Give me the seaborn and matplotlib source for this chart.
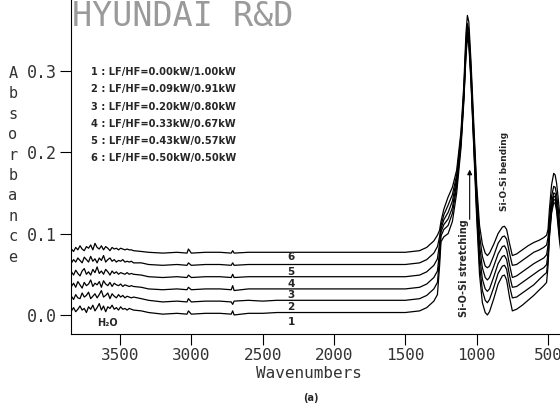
import matplotlib
matplotlib.use("Agg")
import matplotlib.pyplot as plt
import seaborn as sns
import pandas as pd

# ---------------- data ----------------
wavenumbers = [
    3840, 3825, 3810, 3795, 3780, 3765, 3750, 3735, 3720, 3705,
    3690, 3675, 3660, 3645, 3630, 3615, 3600, 3585, 3570, 3555,
    3540, 3525, 3510, 3495, 3480, 3465, 3450, 3435, 3420, 3405,
    3350, 3300, 3200, 3100, 3030, 3020, 3000, 2900, 2800, 2720,
    2710, 2700, 2600, 2500, 2400, 2300, 2200, 2000, 1800, 1600,
    1500, 1450, 1400, 1350,
    1300, 1275, 1260, 1250, 1230, 1200, 1170, 1140, 1110, 1090,
    1075, 1065, 1055, 1040, 1020, 1000, 980, 960, 940, 925,
    910, 880, 850, 820, 805, 790, 770, 750, 720, 680,
    640, 600, 560, 530, 510, 500, 490, 475, 460, 450,
    440, 430, 420, 410,
]

curve1 = [
    .005, .009, .004, .007, .011, .006, .008, .003, .010, .007,
    .012, .005, .009, .014, .006, .011, .004, .010, .008, .012,
    .007, .009, .006, .010, .007, .008, .006, .008, .007, .006,
    .005, .003, .001, .002, .001, .005, .001, .002, .002, .001,
    .005, .000, .002, .002, .003, .003, .003, .003, .003, .003,
    .003, .004, .005, .009,
    .017, .025, .060, .090, .096, .100, .115, .150, .205, .262,
    .318, .341, .333, .287, .204, .120, .050, .015, .003, .000,
    .004, .020, .038, .048, .049, .043, .022, .005, .007, .012,
    .018, .024, .031, .036, .040, .060, .095, .125, .138, .137,
    .128, .110, .092, .078,
]
curve2 = [
    .023, .019, .025, .021, .020, .027, .022, .024, .028, .020,
    .023, .026, .021, .025, .030, .022, .024, .027, .020, .026,
    .023, .021, .025, .022, .024, .021, .023, .022, .021, .022,
    .020, .018, .016, .017, .016, .020, .016, .017, .017, .016,
    .013, .017, .018, .017, .018, .018, .018, .018, .018, .018,
    .018, .019, .020, .024,
    .032, .040, .070, .097, .105, .110, .125, .158, .210, .266,
    .322, .344, .336, .290, .209, .128, .062, .030, .018, .015,
    .019, .034, .051, .060, .061, .056, .036, .021, .022, .027,
    .032, .037, .044, .049, .052, .068, .099, .129, .142, .141,
    .132, .115, .097, .083,
]
curve3 = [
    .035, .039, .034, .041, .037, .033, .040, .036, .038, .043,
    .035, .039, .037, .041, .034, .042, .038, .036, .040, .035,
    .039, .037, .036, .038, .035, .037, .036, .035, .036, .035,
    .034, .032, .031, .032, .031, .034, .031, .032, .032, .031,
    .036, .030, .032, .032, .032, .032, .032, .032, .032, .032,
    .032, .033, .034, .038,
    .046, .054, .078, .102, .111, .118, .132, .163, .213, .269,
    .326, .348, .340, .294, .214, .135, .074, .044, .032, .029,
    .032, .047, .063, .072, .073, .068, .049, .034, .035, .040,
    .045, .050, .055, .058, .062, .076, .104, .133, .146, .145,
    .136, .120, .102, .088,
]
curve4 = [
    .053, .049, .055, .051, .048, .054, .057, .050, .053, .049,
    .056, .052, .059, .051, .054, .050, .056, .053, .049, .054,
    .051, .053, .050, .052, .051, .050, .052, .050, .051, .050,
    .049, .047, .046, .047, .046, .049, .046, .047, .047, .046,
    .050, .046, .047, .047, .047, .047, .047, .047, .047, .047,
    .047, .048, .049, .053,
    .061, .069, .088, .106, .117, .126, .140, .168, .216, .272,
    .330, .352, .344, .298, .219, .143, .086, .058, .046, .043,
    .046, .060, .075, .084, .085, .080, .062, .046, .048, .053,
    .058, .063, .067, .070, .074, .085, .110, .138, .150, .149,
    .140, .125, .108, .094,
]
curve5 = [
    .064, .068, .065, .070, .067, .064, .071, .068, .065, .072,
    .066, .069, .064, .070, .067, .073, .065, .068, .070, .066,
    .068, .065, .067, .066, .068, .065, .066, .065, .066, .064,
    .064, .062, .061, .062, .061, .064, .061, .062, .062, .061,
    .064, .061, .062, .062, .062, .062, .062, .062, .062, .062,
    .062, .063, .064, .068,
    .076, .084, .096, .110, .123, .135, .148, .172, .220, .276,
    .336, .358, .350, .303, .225, .152, .098, .072, .060, .058,
    .060, .073, .088, .096, .097, .093, .076, .061, .062, .067,
    .072, .077, .080, .083, .086, .095, .118, .146, .158, .157,
    .148, .133, .116, .102,
]
curve6 = [
    .081, .078, .083, .080, .085, .081, .079, .084, .082, .086,
    .080, .088, .083, .081, .085, .080, .084, .082, .079, .083,
    .081, .082, .080, .082, .081, .080, .081, .080, .080, .079,
    .078, .077, .076, .077, .076, .081, .076, .077, .077, .076,
    .079, .076, .077, .077, .077, .077, .077, .077, .077, .077,
    .077, .078, .079, .083,
    .091, .098, .104, .115, .130, .145, .157, .178, .225, .283,
    .346, .368, .360, .312, .234, .160, .110, .087, .076, .073,
    .076, .087, .100, .108, .109, .105, .088, .073, .075, .080,
    .085, .089, .092, .095, .098, .105, .130, .160, .174, .172,
    .162, .146, .128, .112,
]

curve_ids = ["1", "2", "3", "4", "5", "6"]
legend_lines = [
    "1 : LF/HF=0.00kW/1.00kW",
    "2 : LF/HF=0.09kW/0.91kW",
    "3 : LF/HF=0.20kW/0.80kW",
    "4 : LF/HF=0.33kW/0.67kW",
    "5 : LF/HF=0.43kW/0.57kW",
    "6 : LF/HF=0.50kW/0.50kW",
]
curve_label_y = [-0.009, 0.010, 0.024, 0.038, 0.053, 0.071]
curve_label_x = 2300

x_ticks = [3500, 3000, 2500, 2000, 1500, 1000, 500]
x_tick_labels = ["3500", "3000", "2500", "2000", "1500", "1000", "500"]
y_ticks = [0.0, 0.1, 0.2, 0.3]
y_tick_labels = ["0.0", "0.1", "0.2", "0.3"]

# ---------------- build long table ----------------
series = [curve1, curve2, curve3, curve4, curve5, curve6]
frames = []
for cid, vals in zip(curve_ids, series):
    assert len(vals) == len(wavenumbers), (cid, len(vals), len(wavenumbers))
    frames.append(pd.DataFrame({"wn": wavenumbers, "absorb": vals, "curve": cid}))
df = pd.concat(frames, ignore_index=True)

# ---------------- figure ----------------
sns.set_style("white")
W, H = 560, 407
fig = plt.figure(figsize=(W / 100, H / 100), dpi=100)
ax = fig.add_axes([71 / W, 73 / H, (W - 71) / W, (H - 73) / H])

sns.lineplot(data=df, x="wn", y="absorb", hue="curve", palette=["black"] * 6,
             legend=False, sort=False, estimator=None, lw=0.9, ax=ax)

ax.set_xlim(3843, 416)
ax.set_ylim(-0.0234, 0.387)

mono = "DejaVu Sans Mono"
ax.set_xticks(x_ticks)
ax.set_xticklabels(x_tick_labels, family=mono, fontsize=11.5, color="#333")
ax.set_yticks(y_ticks)
ax.set_yticklabels(y_tick_labels, family=mono, fontsize=12, color="#333")
ax.tick_params(axis="both", direction="out", length=8, width=0.8, pad=2,
               color="black", bottom=True, left=True)
for s in ["top", "right"]:
    ax.spines[s].set_visible(False)
for s in ["left", "bottom"]:
    ax.spines[s].set_color("black")
    ax.spines[s].set_linewidth(0.8)
ax.set_xlabel("")
ax.set_ylabel("")

# axis titles
fig.text(309 / W, 1 - 374 / H, "Wavenumbers", family=mono, fontsize=11.5,
         color="#333", ha="center", va="center")
fig.text(311 / W, 1 - 398 / H, "(a)", family="DejaVu Sans", fontsize=7,
         fontweight="bold", ha="center", va="center")
fig.text(13 / W, 1 - 66 / H, "A\nb\ns\no\nr\nb\na\nn\nc\ne", family=mono,
         fontsize=11, color="#333", ha="center", va="top", linespacing=1.45)

# header
fig.text(72 / W, 1 - 16 / H, "HYUNDAI R&D", family=mono, fontsize=24,
         color="#9a9a9a", ha="left", va="center")

# legend text block
for i, line in enumerate(legend_lines):
    fig.text(91 / W, 1 - (72 + 17.3 * i) / H, line, family="DejaVu Sans",
             fontsize=7.1, fontweight="bold", ha="left", va="center")

# curve numbers
for cid, yv in zip(curve_ids, curve_label_y):
    ax.text(curve_label_x, yv, cid, family="DejaVu Sans", fontsize=7.5,
            fontweight="bold", ha="center", va="center")

ax.text(3590, -0.010, "H₂O", family="DejaVu Sans", fontsize=7,
        fontweight="bold", ha="center", va="center")

# band annotations
ax.text(1091, 0.058, "Si-O-Si stretching", rotation=90, family="DejaVu Sans",
        fontsize=7, fontweight="bold", ha="center", va="center")
ax.annotate("", xy=(1049, 0.182), xytext=(1049, 0.114),
            arrowprops=dict(arrowstyle="-|>", color="black", lw=0.8,
                            mutation_scale=7))
ax.text(804, 0.176, "Si-O-Si bending", rotation=90, family="DejaVu Sans",
        fontsize=6.5, fontweight="bold", ha="center", va="center")

fig.savefig("out.png", dpi=100)
